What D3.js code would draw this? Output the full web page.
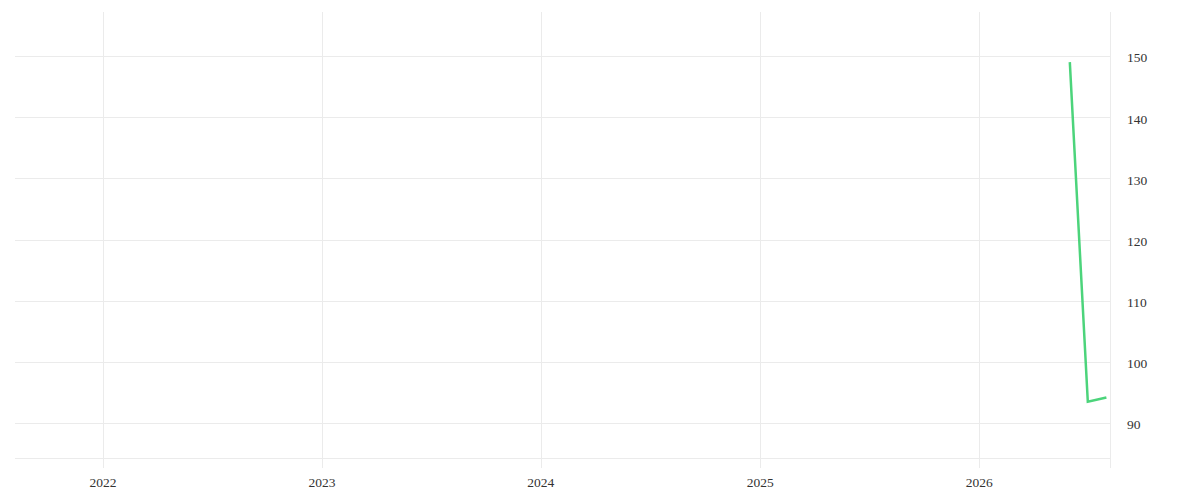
<!DOCTYPE html>
<html>
<head>
<meta charset="utf-8">
<script src="https://cdn.jsdelivr.net/npm/d3@7"></script>
<style>
  body { margin: 0; background: #fff; }
  svg { display: block; }
</style>
</head>
<body>
<svg width="1200" height="500"></svg>
<script>
// data (monthly values)
var dates = ["2026-06-01", "2026-07-01", "2026-08-01"];
var values = [149.0, 93.5, 94.2];
var yearTicks = [2022, 2023, 2024, 2025, 2026];
var valueTicks = [90, 100, 110, 120, 130, 140, 150];

function main() {
    var svg = d3.select("svg"),
        left = 16,
        right = 1110,
        top = 12,
        bottom = 458;

    var parse = d3.timeParse("%Y-%m-%d");
    var data = dates.map(function(d, i) { return { date: parse(d), value: values[i] }; });

    var xScale = d3.scaleTime()
        .domain([new Date(2021, 7, 9), new Date(2026, 7, 7)])
        .range([left, right]);
    var yScale = d3.scaleLinear()
        .domain([84.3, 157.2])
        .range([bottom, top]);

    var grid = svg.append("g").attr("stroke", "#ebebeb").attr("stroke-width", 1);

    // horizontal grid
    grid.selectAll(".hline")
        .data(valueTicks)
        .enter()
        .append("line")
        .attr("x1", left - 1)
        .attr("x2", right)
        .attr("y1", function(d) { return Math.round(yScale(d)) + 0.5; })
        .attr("y2", function(d) { return Math.round(yScale(d)) + 0.5; });

    // bottom baseline
    grid.append("line")
        .attr("x1", left - 1).attr("x2", right)
        .attr("y1", bottom + 0.5).attr("y2", bottom + 0.5);

    // vertical grid
    grid.selectAll(".vline")
        .data(yearTicks)
        .enter()
        .append("line")
        .attr("x1", function(d) { return Math.round(xScale(new Date(d, 0, 1))) + 0.5; })
        .attr("x2", function(d) { return Math.round(xScale(new Date(d, 0, 1))) + 0.5; })
        .attr("y1", top)
        .attr("y2", bottom + 10);

    // right border
    grid.append("line")
        .attr("x1", right + 0.5).attr("x2", right + 0.5)
        .attr("y1", top).attr("y2", bottom + 10);

    // y labels on the right
    svg.append("g")
        .selectAll("text")
        .data(valueTicks)
        .enter()
        .append("text")
        .attr("x", 1127)
        .attr("y", function(d) { return yScale(d) + 2; })
        .attr("dy", "0.32em")
        .attr("font-family", "Liberation Serif")
        .attr("font-size", "13.5px")
        .attr("fill", "#333")
        .text(function(d) { return d; });

    // x labels
    svg.append("g")
        .selectAll("text")
        .data(yearTicks)
        .enter()
        .append("text")
        .attr("x", function(d) { return xScale(new Date(d, 0, 1)); })
        .attr("y", 487)
        .attr("text-anchor", "middle")
        .attr("font-family", "Liberation Serif")
        .attr("font-size", "13.5px")
        .attr("fill", "#333")
        .text(function(d) { return d; });

    var line = d3.line()
        .x(function(d) { return xScale(d.date); })
        .y(function(d) { return yScale(d.value); });

    svg.append("path")
        .datum(data)
        .attr("fill", "none")
        .attr("stroke", "#4cd47b")
        .attr("stroke-width", 2.5)
        .attr("d", line);
}
main();
</script>
</body>
</html>
